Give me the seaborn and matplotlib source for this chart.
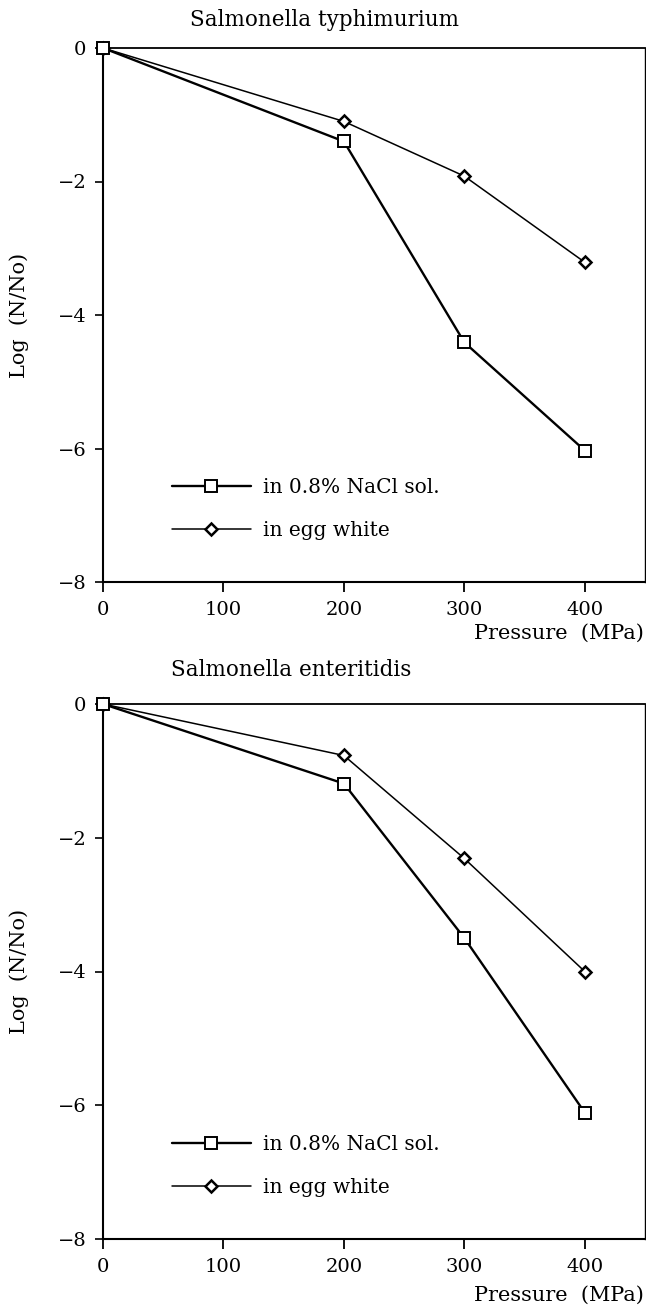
import numpy as np
import pandas as pd
import matplotlib
matplotlib.use("Agg")
import matplotlib.pyplot as plt
import seaborn as sns

# ---- data ----
pressure = [0, 200, 300, 400]
typh_nacl = [0.0, -1.40, -4.41, -6.03]
typh_egg = [0.0, -1.10, -1.92, -3.21]
ent_nacl = [0.0, -1.19, -3.50, -6.11]
ent_egg = [0.0, -0.77, -2.31, -4.00]
titles = ["Salmonella typhimurium", "Salmonella enteritidis"]
series_labels = ["in 0.8% NaCl sol.", "in egg white"]
x_ticks = [0, 100, 200, 300, 400]
y_ticks = [0, -2, -4, -6, -8]

sns.set_theme(style="ticks")
plt.rcParams["font.family"] = ["DejaVu Serif"]
plt.rcParams["axes.unicode_minus"] = True
plt.rcParams["text.color"] = "black"
plt.rcParams["axes.labelcolor"] = "black"
plt.rcParams["xtick.color"] = "black"
plt.rcParams["ytick.color"] = "black"

W, H = 646, 1307
fig = plt.figure(figsize=(W / 100, H / 100), dpi=100)

panels = [
    (typh_nacl, typh_egg, 48, 582, (325, 20), 633),
    (ent_nacl, ent_egg, 704, 1239, (291, 670), 1295),
]

for i, (nacl, egg, ytop, ybot, tpos, plabel_y) in enumerate(panels):
    left, right = 103, 645
    ax = fig.add_axes([left / W, 1 - ybot / H, (right - left) / W, (ybot - ytop) / H])
    df = pd.DataFrame({"Pressure": pressure + pressure,
                       "LogN": egg + nacl,
                       "Medium": [series_labels[1]] * 4 + [series_labels[0]] * 4})
    sns.lineplot(data=df[df.Medium == series_labels[1]], x="Pressure", y="LogN",
                 color="black", lw=1.1, marker="D", markersize=6.3,
                 markerfacecolor="white", markeredgecolor="black", markeredgewidth=1.8,
                 label=series_labels[1], ax=ax, zorder=3, clip_on=False)
    sns.lineplot(data=df[df.Medium == series_labels[0]], x="Pressure", y="LogN",
                 color="black", lw=1.7, marker="s", markersize=9,
                 markerfacecolor="white", markeredgecolor="black", markeredgewidth=1.4,
                 label=series_labels[0], ax=ax, zorder=4, clip_on=False)
    ax.set_xlim(0, 450)
    ax.set_ylim(-8, 0)
    ax.set_xticks(x_ticks)
    ax.set_yticks(y_ticks)
    ax.set_xlabel("")
    ax.set_ylabel("")
    for s in ax.spines.values():
        s.set_linewidth(1.5)
        s.set_color("black")
    ax.spines["right"].set_linewidth(1.0)
    ax.spines["top"].set_linewidth(1.3)
    ax.tick_params(axis="x", direction="out", length=7, width=1.3, pad=7,
                   labelsize=14, colors="black")
    ax.tick_params(axis="y", direction="out", length=6, width=1.2, pad=6,
                   labelsize=14, colors="black")
    handles, labels = ax.get_legend_handles_labels()
    order = [labels.index(series_labels[0]), labels.index(series_labels[1])]
    ax.legend([handles[k] for k in order], [labels[k] for k in order],
              loc="center left", bbox_to_anchor=(57 / 450, 0.137),
              frameon=False, fontsize=14.5, handlelength=3.95, handletextpad=0.6,
              labelspacing=1.2, borderpad=0, borderaxespad=0)
    fig.text(tpos[0] / W, 1 - tpos[1] / H, titles[i], ha="center", va="center",
             fontsize=15.5)
    fig.text(644 / W, 1 - plabel_y / H, "Pressure  (MPa)", ha="right", va="center",
             fontsize=15)
    fig.text(19 / W, 1 - ((ytop + ybot) / 2) / H, "Log  (N/No)", ha="center",
             va="center", rotation=90, fontsize=15)

fig.savefig("out.png", dpi=100)
